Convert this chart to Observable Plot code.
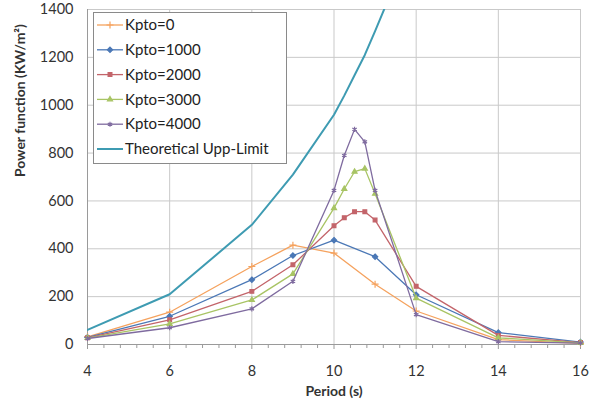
<!DOCTYPE html>
<html><head><meta charset="utf-8">
<script src="https://cdn.jsdelivr.net/npm/d3@7"></script>
<script src="https://cdn.jsdelivr.net/npm/@observablehq/plot@0.6"></script>
<style>body{margin:0;background:#fff;} #chart{width:589px;height:415px;}</style>
</head><body><div id="chart"></div>
<script>
// ---- data ----
const periods = [4, 6, 8, 9, 10, 10.25, 10.5, 10.75, 11, 12, 14, 16];
const seriesNames = ["Kpto=0", "Kpto=1000", "Kpto=2000", "Kpto=3000", "Kpto=4000"];
const kpto0    = [32, 135, 326, 415, 382, null, null, null, 252, 140, 20, 5];
const kpto1000 = [30, 118, 271, 372, 436, null, null, null, 367, 208, 50, 10];
const kpto2000 = [28, 103, 222, 333, 496, 530, 555, 555, 520, 243, 38, 8];
const kpto3000 = [27, 86, 186, 295, 570, 650, 722, 735, 630, 194, 28, 7];
const kpto4000 = [25, 70, 149, 264, 644, 790, 899, 847, 644, 125, 12, 6];
const theoryName = "Theoretical Upp-Limit";
const theoryPeriods = [4, 6, 8, 9, 10, 10.25, 10.5, 10.75, 11, 12];
const theoryValues  = [61, 210, 500, 710, 960, 1040, 1125, 1210, 1310, 1720];
const xTicks = [4, 6, 8, 10, 12, 14, 16];
const xMinorTicks = [4.4,4.8,5.2,5.6,6.4,6.8,7.2,7.6,8.4,8.8,9.2,9.6,10.4,10.8,11.2,11.6,12.4,12.8,13.2,13.6,14.4,14.8,15.2,15.6];
const yTicks = [0, 200, 400, 600, 800, 1000, 1200, 1400];
const xTitle = "Period (s)";
const yTitle = "Power function (KW/m²)";

// ---- styles ----
const seriesColors = ["#f5a25e", "#4b78b6", "#c3646a", "#a8c464", "#7f6b9f"];
const seriesSymbols = ["plus", "diamond2", "square2", "triangle2", "asterisk"];
const seriesFilled = [false, true, true, true, false];
const theoryColor = "#3e9bb2";

const seriesValues = [kpto0, kpto1000, kpto2000, kpto3000, kpto4000];
const rows = [];
seriesNames.forEach((name, i) => {
  periods.forEach((p, j) => {
    const v = seriesValues[i][j];
    if (v != null) rows.push({series: name, period: p, value: v});
  });
});
const theoryRows = theoryPeriods.map((p, j) => ({period: p, value: theoryValues[j]}));
const fmt = d => String(d);

const marks = [
  Plot.gridY(yTicks, {stroke: "#c9c9c9", strokeOpacity: 1}),
  Plot.gridX(xTicks, {stroke: "#c9c9c9", strokeOpacity: 1}),
  Plot.ruleY([0], {stroke: "#9a9a9a"}),
  Plot.ruleX([4], {stroke: "#9a9a9a"}),
  Plot.axisX(xMinorTicks, {tickSize: 4, text: null, stroke: "#9a9a9a", label: null}),
  Plot.axisX(xTicks, {tickSize: 5, text: null, stroke: "#9a9a9a", label: null}),
  Plot.axisX(xTicks, {tickSize: 0, tickPadding: 21, fontSize: 14.5, fill: "#333", label: null, tickFormat: fmt}),
  Plot.axisY(yTicks, {tickSize: 0, tickPadding: 14, fontSize: 14.5, fill: "#333", label: null, tickFormat: fmt}),
  Plot.text([yTitle], {frameAnchor: "left", dx: -67, rotate: -90, fontSize: 14, fontWeight: "bold", fill: "#333"}),
  Plot.text([xTitle], {frameAnchor: "bottom", dy: 51, fontSize: 14, fontWeight: "bold", fill: "#333"}),
  Plot.line(theoryRows, {x: "period", y: "value", stroke: theoryColor, strokeWidth: 2, clip: true})
];
seriesNames.forEach((name, i) => {
  const data = rows.filter(d => d.series === name);
  marks.push(Plot.line(data, {x: "period", y: "value", stroke: seriesColors[i], strokeWidth: 1.3}));
  marks.push(Plot.dot(data, {x: "period", y: "value", symbol: () => seriesSymbols[i], r: 2.4,
    stroke: seriesColors[i], fill: seriesFilled[i] ? seriesColors[i] : "none", strokeWidth: 1.2}));
});

const plot = Plot.plot({
  width: 589, height: 415,
  marginLeft: 87, marginRight: 9, marginTop: 9, marginBottom: 71,
  x: {domain: [4, 16], axis: null},
  y: {domain: [0, 1400], axis: null},
  symbol: {type: "identity"},
  style: {fontFamily: "Lato, 'Open Sans', sans-serif", fontSize: "15px", background: "#fff"},
  marks
});

// legend
const svg = d3.select(plot);
const lg = svg.append("g").attr("font-family", "Lato, 'Open Sans', sans-serif").attr("font-size", 15);
lg.append("rect").attr("x", 93.5).attr("y", 12.5).attr("width", 193).attr("height", 151)
  .attr("fill", "#fff").attr("stroke", "#8a8a8a");
const entries = seriesNames.map((n, i) => ({name: n, color: seriesColors[i], symbol: seriesSymbols[i], filled: seriesFilled[i], w: 1.3}))
  .concat([{name: theoryName, color: theoryColor, symbol: null, w: 2}]);
const symMap = {plus: d3.symbolPlus, diamond2: d3.symbolDiamond2, square2: d3.symbolSquare2, triangle2: d3.symbolTriangle2, asterisk: d3.symbolAsterisk};
entries.forEach((e, i) => {
  const y = 25 + i * 24.8;
  lg.append("line").attr("x1", 97).attr("x2", 123).attr("y1", y).attr("y2", y)
    .attr("stroke", e.color).attr("stroke-width", e.w);
  if (e.symbol) {
    lg.append("path").attr("d", d3.symbol(symMap[e.symbol], Math.PI * 2.4 * 2.4)())
      .attr("transform", `translate(110,${y})`)
      .attr("fill", e.filled ? e.color : "none").attr("stroke", e.color).attr("stroke-width", 1.2);
  }
  lg.append("text").attr("x", 125).attr("y", y).attr("dy", "0.35em").attr("text-anchor", "start")
    .attr("fill", "#222").text(e.name);
});

document.getElementById("chart").appendChild(plot);
</script>
</body></html>
